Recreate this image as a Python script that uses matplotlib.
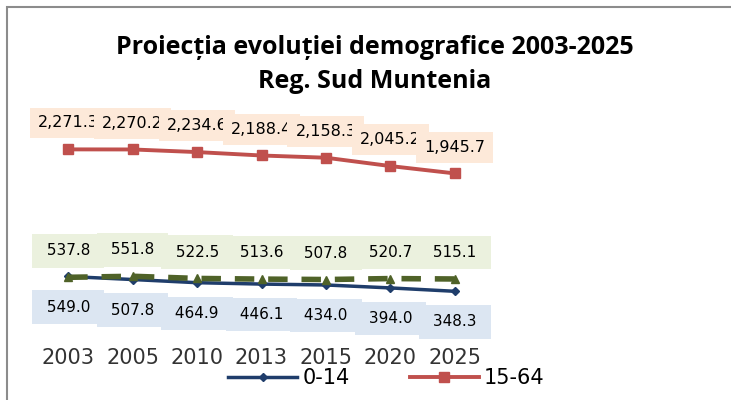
import matplotlib.pyplot as plt
from matplotlib.patches import Rectangle

years = ['2003', '2005', '2010', '2013', '2015', '2020', '2025']
age_0_14 = [549.0, 507.8, 464.9, 446.1, 434.0, 394.0, 348.3]
age_15_64 = [2271.3, 2270.2, 2234.6, 2188.4, 2158.3, 2045.2, 1945.7]
age_65 = [537.8, 551.8, 522.5, 513.6, 507.8, 520.7, 515.1]

plt.rcParams['font.family'] = ['DejaVu Sans']

fig = plt.figure(figsize=(7.31, 4.0), dpi=100)
ax = fig.add_axes([36 / 731, 1 - 317 / 400, 451 / 731, 184.5 / 400])
x = list(range(len(years)))

l1, = ax.plot(x, age_0_14, color='#1f3d6b', lw=2.5, marker='D', ms=4, label='0-14')
l2, = ax.plot(x, age_15_64, color='#c0504d', lw=2.8, marker='s', ms=7, label='15-64')
l3, = ax.plot(x, age_65, color='#4f6228', lw=4, ls=(0, (3.5, 2.5)), marker='^', ms=6, label='65+')


def fmt(v):
    return '{:,.1f}'.format(v)


for i in x:
    ax.annotate(fmt(age_15_64[i]), (i, age_15_64[i]), xytext=(0, 19), textcoords='offset points',
                ha='center', va='center', fontsize=11.5,
                bbox=dict(boxstyle='square,pad=0.5', fc='#fde9d9', ec='none'))
for i in x:
    ax.annotate(' ' + fmt(age_65[i]) + ' ', (i, age_65[i]), xytext=(0, 19), textcoords='offset points',
                ha='center', va='center', fontsize=11,
                bbox=dict(boxstyle='square,pad=0.6', fc='#ebf1de', ec='none'))
for i in x:
    ax.annotate(' ' + fmt(age_0_14[i]) + ' ', (i, age_0_14[i]), xytext=(0, -22), textcoords='offset points',
                ha='center', va='center', fontsize=11,
                bbox=dict(boxstyle='square,pad=0.6', fc='#dce6f2', ec='none'))

ax.set_xlim(-0.5, 6.5)
ax.set_ylim(0, 2500)
ax.set_xticks(x)
ax.set_xticklabels(years, fontsize=15, color='#333333')
ax.tick_params(axis='x', length=0, pad=22)
ax.set_yticks([])
for s in ax.spines.values():
    s.set_visible(False)

title_font = ['Open Sans', 'DejaVu Sans']
fig.text(375 / 731, 1 - 48 / 400, 'Proiecția evoluției demografice 2003-2025',
         ha='center', va='center', fontsize=18, fontweight='bold', family=title_font)
fig.text(375 / 731, 1 - 82 / 400, 'Reg. Sud Muntenia',
         ha='center', va='center', fontsize=18, fontweight='bold', family=title_font)

fig.legend(handles=[l1, l2], loc='center left', bbox_to_anchor=(218 / 731, 1 - 378 / 400),
           ncol=2, frameon=False, fontsize=15, handlelength=3.3, handletextpad=0.25,
           columnspacing=2.9, borderpad=0)

fig.add_artist(Rectangle((7 / 731, -0.1), 1.2, 1 - 7 / 400 + 0.1, transform=fig.transFigure,
                         fill=False, ec='#8c8c8c', lw=1.5))

plt.savefig('out.png', dpi=100)
